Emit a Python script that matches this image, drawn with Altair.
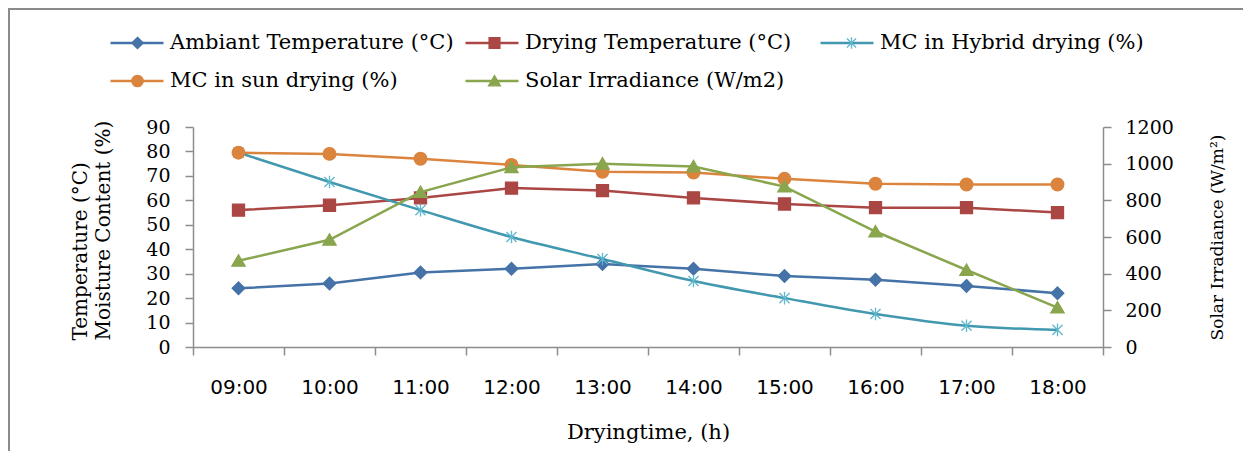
import altair as alt
import pandas as pd

times = ["09:00", "10:00", "11:00", "12:00", "13:00", "14:00", "15:00", "16:00", "17:00", "18:00"]
series_names = [
    "Ambiant Temperature (°C)",
    "Drying Temperature (°C)",
    "MC in Hybrid drying (%)",
    "MC in sun drying (%)",
    "Solar Irradiance (W/m2)",
]
ambient = [24, 26, 30.5, 32, 34, 32, 29, 27.5, 25, 22]
drying = [56, 58, 61, 65, 64, 61, 58.5, 57, 57, 55]
hybrid = [79.5, 67.5, 56, 45, 36, 27, 20, 13.5, 8.7, 7]
sun = [79.5, 79, 77, 74.5, 71.7, 71.4, 68.8, 66.8, 66.5, 66.5]
solar = [470, 585, 845, 980, 1000, 985, 875, 630, 420, 215]

colors = ["#4572A7", "#AA4643", "#4198AF", "#DB843D", "#89A54E"]
stroke_colors = ["#4572A7", "#AA4643", "#5FB8CE", "#DB843D", "#89A54E"]

# marker keys differ from line keys (trailing space) so the two legends stay separate
marker_names = [n + " " for n in series_names]

all_values = [ambient, drying, hybrid, sun, solar]
rows = []
for name, mname, vals in zip(series_names, marker_names, all_values):
    for t, v in zip(times, vals):
        rows.append({"time": t, "series": name, "marker": mname, "value": v})
df = pd.DataFrame(rows)

# marker shapes (unit square coordinates)
shape_paths = [
    "M0,-1L1,0L0,1L-1,0Z",
    "M-0.95,-0.95H0.95V0.95H-0.95Z",
    "M0,-1V1M-0.8,-0.8L0.8,0.8M-0.8,0.8L0.8,-0.8",
    "M1,0A1,1,0,1,1,-1,0A1,1,0,1,1,1,0Z",
    "M0,-0.95L1.05,0.85L-1.05,0.85Z",
]

FONT_SERIF = "DejaVu Serif"
FONT_SANS = "DejaVu Sans"
AX_GRAY = "#8c8c8c"

LEG_X = -84
LEG_Y = -96
common_leg = dict(
    title=None,
    orient="none",
    direction="horizontal",
    legendX=LEG_X,
    legendY=LEG_Y,
    columns=3,
    gridAlign="all",
    rowPadding=14,
    clipHeight=24,
    padding=0,
    labelFont=FONT_SERIF,
    labelFontSize=21,
    labelColor="#000000",
    labelLimit=600,
)
# legend of the lines (long stroke symbols) with the labels
line_legend = alt.Legend(
    symbolType="stroke",
    symbolSize=2809,
    symbolStrokeWidth=2.5,
    symbolOffset=0,
    labelOffset=5,
    columnPadding=10,
    zindex=0,
    **common_leg,
)
# legend of the markers only (no labels), drawn over the line legend
marker_legend = alt.Legend(
    symbolSize=130,
    symbolStrokeWidth=1.3,
    symbolOffset=18,
    labelOffset=41,
    labelExpr="''",
    columnPadding=277,
    symbolOpacity=1,
    zindex=1,
    **common_leg,
)

color_enc = alt.Color(
    "series:N", scale=alt.Scale(domain=series_names, range=colors), legend=line_legend
)
fill_enc = alt.Fill(
    "marker:N", scale=alt.Scale(domain=marker_names, range=colors), legend=marker_legend
)
shape_enc = alt.Shape(
    "marker:N", scale=alt.Scale(domain=marker_names, range=shape_paths), legend=marker_legend
)
stroke_enc = alt.Stroke(
    "marker:N", scale=alt.Scale(domain=marker_names, range=stroke_colors), legend=marker_legend
)

x_axis = alt.Axis(
    title="Dryingtime, (h)",
    titleFont=FONT_SERIF,
    titleFontSize=21,
    titleFontWeight="normal",
    titleColor="#000000",
    titleBaseline="top",
    titleY=74,
    labelFont=FONT_SANS,
    labelFontSize=20,
    labelColor="#000000",
    labelAngle=0,
    labelPadding=22,
    tickBand="extent",
    tickSize=8,
    tickColor=AX_GRAY,
    tickWidth=1.5,
    domainColor=AX_GRAY,
    domainWidth=1.5,
    grid=False,
)
x_enc = alt.X(
    "time:O",
    sort=times,
    scale=alt.Scale(type="band", paddingInner=0, paddingOuter=0),
    bandPosition=0.5,
    axis=x_axis,
)

left_axis = alt.Axis(
    orient="left",
    title=["Temperature (°C)", "Moisture Content (%)"],
    titleFont=FONT_SERIF,
    titleFontSize=20,
    titleFontWeight="normal",
    titleColor="#000000",
    titleAngle=270,
    titleAlign="left",
    titleBaseline="middle",
    titleLineHeight=23,
    titleX=-113,
    titleY=213,
    values=[0, 10, 20, 30, 40, 50, 60, 70, 80, 90],
    labelFont=FONT_SERIF,
    labelFontSize=19,
    labelColor="#000000",
    labelPadding=15,
    tickSize=8,
    tickColor=AX_GRAY,
    tickWidth=1.5,
    domainColor=AX_GRAY,
    domainWidth=1.5,
    grid=False,
)
right_axis = alt.Axis(
    orient="right",
    title="Solar Irradiance (W/m²)",
    titleFont=FONT_SERIF,
    titleFontSize=17,
    titleFontWeight="normal",
    titleColor="#000000",
    titleAngle=270,
    titleAlign="left",
    titleBaseline="middle",
    titleX=114,
    titleY=213,
    values=[0, 200, 400, 600, 800, 1000, 1200],
    format="d",
    labelFont=FONT_SERIF,
    labelFontSize=19,
    labelColor="#000000",
    labelPadding=14,
    tickSize=8,
    tickColor=AX_GRAY,
    tickWidth=1.5,
    domainColor=AX_GRAY,
    domainWidth=1.5,
    grid=False,
)

y_left = alt.Y("value:Q", scale=alt.Scale(domain=[0, 90], nice=False), axis=left_axis)
y_right = alt.Y("value:Q", scale=alt.Scale(domain=[0, 1200], nice=False), axis=right_axis)

left_series = series_names[:4]
left_base = (
    alt.Chart(df)
    .transform_filter(alt.FieldOneOfPredicate(field="series", oneOf=left_series))
    .encode(x=x_enc, y=y_left)
)
left_lines = (
    left_base.transform_filter(
        alt.FieldOneOfPredicate(field="series", oneOf=[series_names[0], series_names[1], series_names[3]])
    )
    .mark_line(strokeWidth=2.5)
    .encode(color=color_enc)
)
hybrid_line = (
    left_base.transform_filter(alt.FieldEqualPredicate(field="series", equal=series_names[2]))
    .mark_line(strokeWidth=2.5, interpolate="monotone")
    .encode(color=color_enc)
)
left_pts = left_base.mark_point(filled=True, size=160, opacity=1, strokeWidth=1.3).encode(
    fill=fill_enc, shape=shape_enc, stroke=stroke_enc
)

right_base = (
    alt.Chart(df)
    .transform_filter(alt.FieldEqualPredicate(field="series", equal=series_names[4]))
    .encode(x=x_enc, y=y_right)
)
right_line = right_base.mark_line(strokeWidth=2.5).encode(color=color_enc)
right_pts = right_base.mark_point(filled=True, size=160, opacity=1, strokeWidth=1.3).encode(
    fill=fill_enc, shape=shape_enc, stroke=stroke_enc
)

frame_df = pd.DataFrame({"k": [0]})
border_v = alt.Chart(frame_df).mark_rule(color="#8a8a8a", strokeWidth=2).encode(
    x=alt.value(-184), y=alt.value(-118), y2=alt.value(335)
)
border_h = alt.Chart(frame_df).mark_rule(color="#8a8a8a", strokeWidth=2).encode(
    x=alt.value(-185), x2=alt.value(1050), y=alt.value(-118)
)

left = alt.layer(left_lines, hybrid_line, left_pts)
right = alt.layer(right_line, right_pts)

chart = (
    alt.layer(left, right, border_v, border_h)
    .resolve_scale(y="independent")
    .properties(
        width=910,
        height=220,
        autosize=alt.AutoSizeParams(type="none"),
        padding={"left": 185, "top": 119, "right": 141, "bottom": 104},
        background="white",
    )
    .configure_view(strokeWidth=0)
)

chart.save("out.html", embed_options={"renderer": "svg", "actions": False})
